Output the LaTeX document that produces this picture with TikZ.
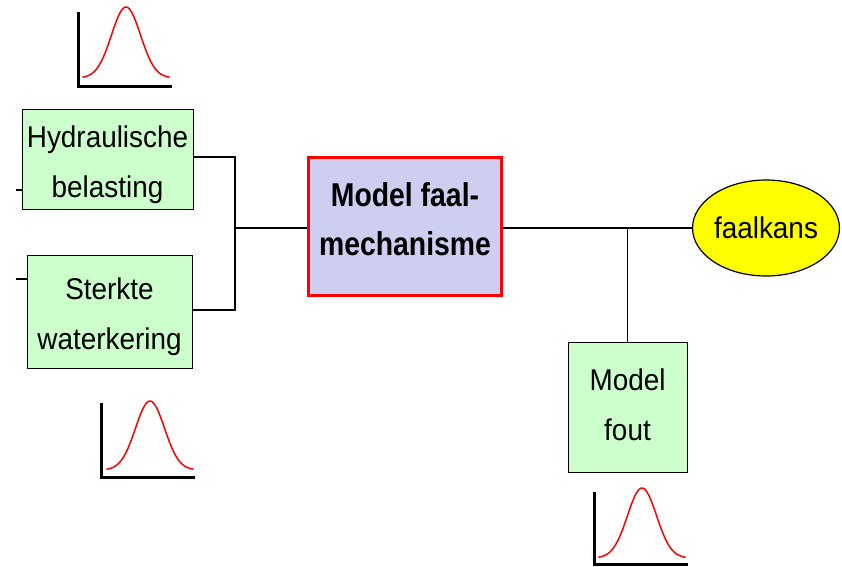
\documentclass[tikz,border=0pt]{standalone}
\usepackage{fontspec}
\setmainfont{Liberation Sans}[FakeStretch=0.93]
\newfontfamily\condbold{Liberation Sans Bold}[FakeStretch=0.86]
\usetikzlibrary{shapes.geometric}
\definecolor{boxgreen}{RGB}{204,255,204}
\definecolor{lavender}{RGB}{206,206,240}
\definecolor{yel}{RGB}{255,255,0}
\newcommand\boxtext[2]{\raisebox{#1}[\height][\depth]{\begin{tabular}{@{}c@{}}#2\end{tabular}}}
\begin{document}
\begin{tikzpicture}[x=1pt,y=-1pt,
  greenbox/.style={draw=black, line width=1pt, fill=boxgreen,
    font=\fontsize{30}{50}\selectfont, inner sep=0pt},
  modelbox/.style={draw=red, line width=3pt, fill=lavender,
    font=\condbold\fontsize{33}{49}\selectfont, inner sep=0pt,
    minimum width=193pt, minimum height=138pt},
  ovalbox/.style={ellipse, draw=black, line width=1.2pt, fill=yel,
    font=\fontsize{30}{50}\selectfont, inner sep=0pt,
    minimum width=142pt, minimum height=96pt},
  wire/.style={line width=1.3pt},
  axis/.style={line width=3pt, line join=miter},
  bell/.style={red, line width=1.5pt, line join=round}
]
\useasboundingbox (0,0) rectangle (842,566);

% nodes
\node[greenbox, minimum width=171pt, minimum height=99pt] (hyd) at (107.5,159) {\boxtext{-3pt}{Hydraulische\\belasting}};
\node[greenbox, minimum width=165pt, minimum height=113pt] (ster) at (109.5,311.5) {\boxtext{-3pt}{Sterkte\\waterkering}};
\node[modelbox] (model) at (405,226) {\boxtext{5pt}{Model faal-\\mechanisme}};
\node[ovalbox] (fk) at (766,228) {faalkans};
\node[greenbox, minimum width=119pt, minimum height=130pt] (fout) at (627.5,407) {\boxtext{2pt}{Model\\fout}};

% connectors
\coordinate (s1) at (16,190);
\coordinate (s2) at (16,279);
\coordinate (a1) at (235,157);
\coordinate (a2) at (235,310);
\coordinate (J) at (235,228);
\draw[wire] (s1) -- (hyd.west|-s1);
\draw[wire] (s2) -- (ster.west|-s2);
\draw[wire] (hyd.east|-a1) -- (a1) -- (a2) -- (ster.east|-a2);
\draw[wire] (J) -- (model.west|-J);
\draw[wire] (model.east|-fk.west) -- (fk.west);
\draw[wire] (fout.north) -- (fout.north|-fk.west);

% distributions
\draw[axis] (78,12) -- (78,86) -- (172,86);
\draw[bell] plot[domain=-3:3, samples=61, smooth] ({126+14.5*\x},{78-71*exp(-0.5*(\x)*(\x))});

\draw[axis] (101,403) -- (101,477) -- (195,477);
\draw[bell] plot[domain=-3:3, samples=61, smooth] ({150+14.5*\x},{470-69*exp(-0.5*(\x)*(\x))});

\draw[axis] (594,492) -- (594,564) -- (688,564);
\draw[bell] plot[domain=-3:3, samples=61, smooth] ({642+14.5*\x},{558-70*exp(-0.5*(\x)*(\x))});
\end{tikzpicture}
\end{document}
